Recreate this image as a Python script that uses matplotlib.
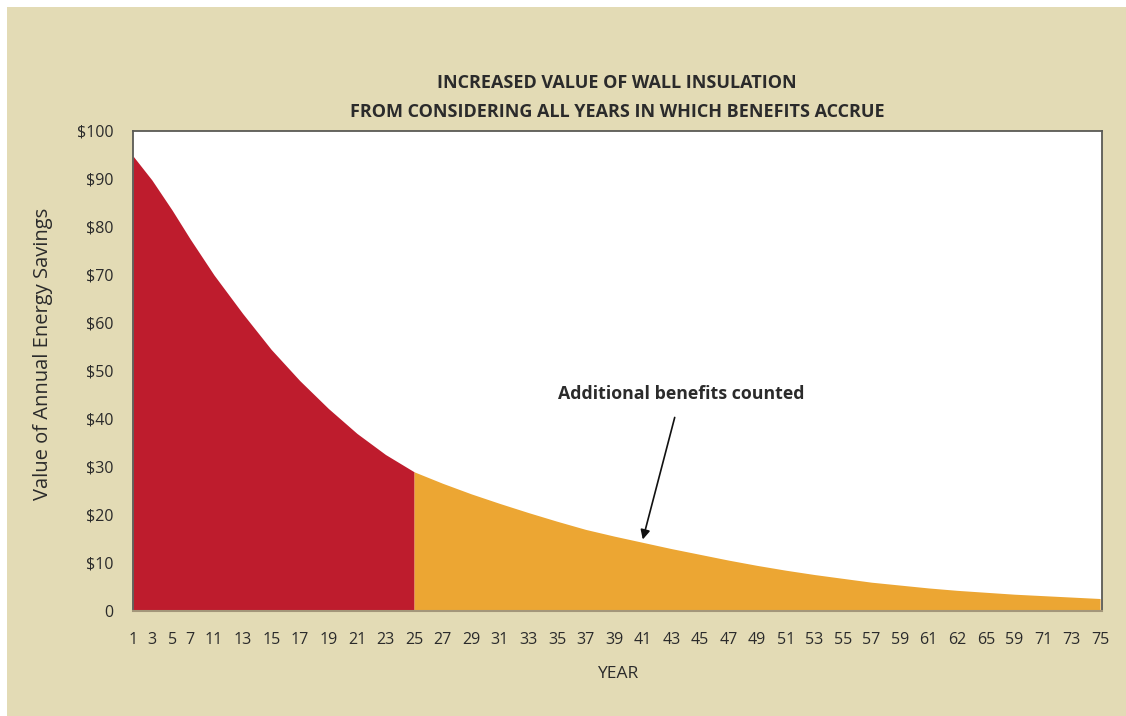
import matplotlib
matplotlib.use("Agg")
import matplotlib.pyplot as plt
from matplotlib.patches import Rectangle
import numpy as np

plt.rcParams['font.family'] = ['Open Sans', 'DejaVu Sans']

# ---- data ----
year_labels = ["1", "3", "5", "7", "11", "13", "15", "17", "19", "21", "23", "25",
               "27", "29", "31", "33", "35", "37", "39", "41", "43", "45", "47", "49",
               "51", "53", "55", "57", "59", "61", "62", "65", "59", "71", "73", "75"]
savings = [94.8, 89.8, 83.5, 77.5, 70.0, 62.0, 54.5, 48.0, 42.2, 37.0, 32.6, 29.0,
           26.6, 24.4, 22.4, 20.5, 18.7, 17.0, 15.6, 14.3, 13.0, 11.8, 10.6, 9.5,
           8.5, 7.6, 6.8, 6.0, 5.4, 4.8, 4.3, 3.9, 3.5, 3.2, 2.9, 2.6]
split_label_index = 11          # year "25": end of conventional period
y_ticks = [0, 10, 20, 30, 40, 50, 60, 70, 80, 90, 100]
y_tick_labels = ["0"] + ["$%d" % v for v in y_ticks[1:]]

# ---- layout (slot positions of the tick labels, as drawn in the original) ----
tick_pos = np.array([0.0, 0.66, 1.37, 2.0] + [2.834 + k for k in range(32)])

bg = "#E3DBB5"
red = "#BE1C2D"
orange = "#ECA633"
txt = "#2b2b2b"

fig = plt.figure(figsize=(11.26, 7.16), dpi=100, facecolor="white")
fig.patches.append(Rectangle((7 / 1126, 0), 1, 1 - 7 / 716, transform=fig.transFigure,
                             facecolor=bg, edgecolor="none", zorder=-10))

ax = fig.add_axes([133 / 1126, 1 - 611 / 716, (1102 - 133) / 1126, (611 - 131) / 716])
ax.set_facecolor("white")

s = split_label_index
ax.fill_between(tick_pos[:s + 1], savings[:s + 1], 0, color=red, linewidth=0, zorder=2)
ax.fill_between(tick_pos[s:], savings[s:], 0, color=orange, linewidth=0, zorder=2)

ax.set_xlim(0, 33.9)
ax.set_ylim(0, 100)
ax.set_xticks(tick_pos)
ax.set_xticklabels(year_labels, fontsize=11.5, color=txt)
ax.set_yticks(y_ticks)
ax.set_yticklabels(y_tick_labels, fontsize=11.5, color=txt)
ax.tick_params(length=0)
ax.tick_params(axis='x', pad=15)
ax.tick_params(axis='y', pad=14)

for side in ["top", "right", "left"]:
    ax.spines[side].set_color("#5a5a55")
    ax.spines[side].set_linewidth(1.3)
ax.spines["bottom"].set_color("#a3967a")
ax.spines["bottom"].set_linewidth(1.5)
for sp in ax.spines.values():
    sp.set_zorder(5)

ax.set_xlabel("YEAR", fontsize=12.5, color=txt, labelpad=13)
ax.set_ylabel("Value of Annual Energy Savings", fontsize=14.5, color=txt, labelpad=17, y=0.535)

fig.text(617 / 1126, 1 - 83 / 716, "INCREASED VALUE OF WALL INSULATION",
         ha="center", va="center", fontsize=13, fontweight="bold", color=txt)
fig.text(617 / 1126, 1 - 112 / 716, "FROM CONSIDERING ALL YEARS IN WHICH BENEFITS ACCRUE",
         ha="center", va="center", fontsize=13, fontweight="bold", color=txt)

ax.annotate("Additional benefits counted",
            xy=(tick_pos[19], savings[19] + 0.6), xytext=(19.17, 45.3),
            ha="center", va="center", fontsize=12.8, fontweight="bold", color=txt,
            arrowprops=dict(arrowstyle="-|>", color="#111111", lw=1.2,
                            mutation_scale=14, shrinkA=9, shrinkB=0),
            zorder=6)

fig.savefig("out.png", dpi=100, facecolor=fig.get_facecolor())
